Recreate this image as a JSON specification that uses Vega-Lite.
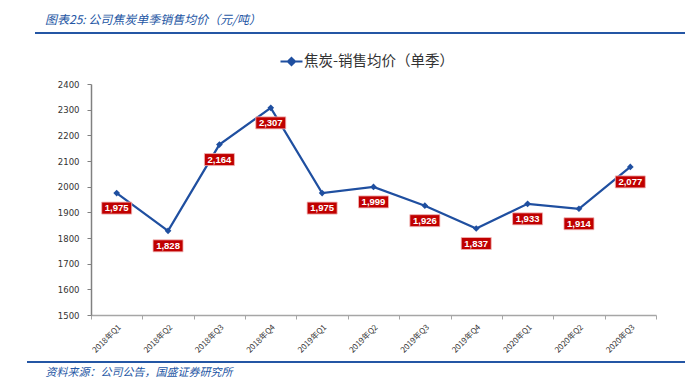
{
  "$schema": "https://vega.github.io/schema/vega-lite/v6.json",
  "autosize": "none",
  "width": 565,
  "height": 231,
  "padding": {"left": 91, "top": 84, "right": 29, "bottom": 77},
  "background": "white",
  "config": {"view": {"stroke": null}, "font": "Liberation Sans"},
  "title": {
    "text": "图表25: 公司焦炭单季销售均价（元/吨）",
    "anchor": "start",
    "frame": "group",
    "dx": -46,
    "offset": 5,
    "font": "Noto Sans CJK SC",
    "fontStyle": "italic",
    "fontWeight": "normal",
    "fontSize": 12,
    "color": "#2456A4"
  },
  "data": {
    "values": [
      {"q": "2018年Q1", "price": 1975},
      {"q": "2018年Q2", "price": 1828},
      {"q": "2018年Q3", "price": 2164},
      {"q": "2018年Q4", "price": 2307},
      {"q": "2019年Q1", "price": 1975},
      {"q": "2019年Q2", "price": 1999},
      {"q": "2019年Q3", "price": 1926},
      {"q": "2019年Q4", "price": 1837},
      {"q": "2020年Q1", "price": 1933},
      {"q": "2020年Q2", "price": 1914},
      {"q": "2020年Q3", "price": 2077}
    ]
  },
  "encoding": {
    "x": {
      "field": "q",
      "type": "nominal",
      "sort": null,
      "scale": {"type": "band", "paddingInner": 0, "paddingOuter": 0},
      "axis": {
        "title": "资料来源：公司公告，国盛证券研究所",
        "titleX": -46,
        "titleY": 57,
        "titleAlign": "left",
        "titleAnchor": "start",
        "titleBaseline": "middle",
        "titleFont": "Noto Sans CJK SC",
        "titleFontStyle": "italic",
        "titleFontWeight": "normal",
        "titleFontSize": 11,
        "titleColor": "#2456A4",
        "labelAngle": -45,
        "labelFontSize": 8,
        "labelColor": "#333333",
        "labelFont": "Noto Sans CJK SC",
        "tickBand": "extent",
        "tickSize": 4,
        "tickColor": "#A6A6A6",
        "domainColor": "#A6A6A6",
        "domainWidth": 1.5,
        "labelPadding": 4
      }
    },
    "y": {
      "field": "price",
      "type": "quantitative",
      "scale": {"domain": [1500, 2400], "nice": false, "zero": false},
      "axis": {
        "title": null,
        "values": [1500, 1600, 1700, 1800, 1900, 2000, 2100, 2200, 2300, 2400],
        "format": "d",
        "grid": false,
        "labelFont": "DejaVu Sans",
        "labelFontSize": 8.5,
        "labelColor": "#333333",
        "tickSize": 4,
        "tickColor": "#808080",
        "domainColor": "#808080",
        "domainWidth": 1.5,
        "labelPadding": 8
      }
    }
  },
  "layer": [
    {
      "mark": {"type": "line", "strokeWidth": 2.2, "point": {"shape": "diamond", "filled": true, "size": 45}},
      "encoding": {
        "color": {
          "datum": "焦炭-销售均价（单季）",
          "scale": {"range": ["#1F4FA0"]},
          "legend": {
            "title": null,
            "orient": "none",
            "legendX": 192,
            "legendY": -31,
            "labelFont": "Noto Sans CJK SC",
            "labelFontSize": 14.5,
            "labelColor": "#333333",
            "symbolType": "M-1.5,0H1.5M0,-0.5L0.5,0L0,0.5L-0.5,0Z",
            "symbolSize": 215,
            "symbolStrokeWidth": 2,
            "symbolFillColor": "#1F4FA0",
            "symbolStrokeColor": "#1F4FA0"
          }
        }
      }
    },
    {
      "mark": {"type": "point", "shape": "M-1,-0.4H1V0.4H-1Z", "size": 900, "filled": true, "color": "#C00000", "opacity": 1, "yOffset": 15, "stroke": "#F2B8B8", "strokeWidth": 0.8}
    },
    {
      "mark": {"type": "text", "yOffset": 15, "color": "white", "fontWeight": "bold", "fontSize": 9.5, "baseline": "middle", "align": "center"},
      "encoding": {"text": {"field": "price", "type": "quantitative", "format": ","}}
    },
    {
      "mark": {"type": "rule", "color": "#2456A4", "strokeWidth": 2},
      "encoding": {"y": {"datum": 2599}, "x": {"value": -56}, "x2": {"value": 594}}
    },
    {
      "mark": {"type": "rule", "color": "#2456A4", "strokeWidth": 2},
      "encoding": {"y": {"datum": 1317}, "x": {"value": -64}, "x2": {"value": 594}}
    }
  ]
}
